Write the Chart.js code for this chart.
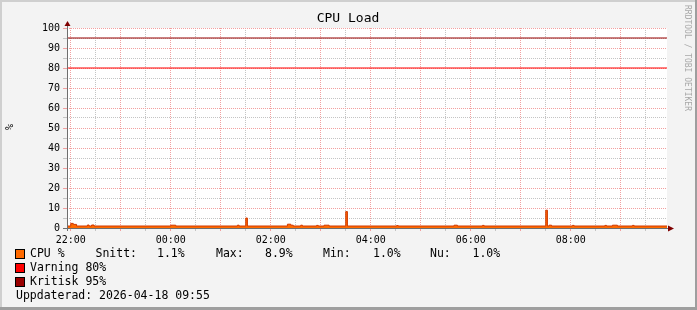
<!DOCTYPE html>
<html>
<head>
<meta charset="utf-8">
<script src="https://cdn.jsdelivr.net/npm/chart.js@4/dist/chart.umd.min.js"></script>
<style>
  html, body { margin: 0; padding: 0; background: #f3f3f3; }
  #wrap { width: 697px; height: 310px; }
</style>
</head>
<body>
<div id="wrap"><canvas id="cpu_chart" width="697" height="310"></canvas></div>
<script>
// minutes after 22:00, value holds until next time
const cpuTimes = [-4.5, 0, 3, 7, 20, 22, 25, 28, 120, 126, 200, 202, 210, 212,
    260, 264, 267, 276, 278, 295, 297, 304, 310, 330, 332, 391, 393, 460, 464,
    494, 496, 570, 572, 574, 577, 602, 604, 641, 643, 650, 656, 674, 676, 715.5];
const cpuValues = [1.0, 2.3, 1.8, 1.0, 1.5, 1.0, 1.5, 1.0, 1.4, 1.0, 1.4, 1.0, 5.0, 1.0,
    1.9, 1.4, 1.0, 1.4, 1.0, 1.3, 1.0, 1.4, 1.0, 8.2, 1.0, 1.2, 1.0, 1.4, 1.0,
    1.3, 1.0, 8.9, 1.0, 1.4, 1.0, 1.3, 1.0, 1.3, 1.0, 1.4, 1.0, 1.3, 1.0, 1.0];
const warnLevel = 80;
const critLevel = 95;
const xLabels = ['22:00', '00:00', '02:00', '04:00', '06:00', '08:00'];
const statLabels = ['Snitt:', 'Max:', 'Min:', 'Nu:'];
const statValues = ['1.1%', '8.9%', '1.0%', '1.0%'];

const X_MIN = -4.5, X_MAX = 715.5;
const MONO = "'DejaVu Sans Mono', monospace";

Chart.defaults.font.family = MONO;
Chart.defaults.color = '#000';

function pts(xs, ys) {
    let out = [];
    for (let i = 0; i < xs.length; i++) out.push({x: xs[i], y: ys[i]});
    return out;
}

const majorGrid = '#f2a0a0';
const minorGrid = '#c4c4c4';

const rrdLook = {
    id: 'rrdLook',
    beforeDraw(chart) {
        const c = chart.ctx, a = chart.chartArea;
        c.save();
        c.fillStyle = '#f3f3f3';
        c.fillRect(0, 0, 697, 310);
        // shade frame
        c.fillStyle = '#cfcfcf';
        c.fillRect(0, 0, 697, 2);
        c.fillRect(0, 0, 2, 310);
        c.fillStyle = '#9e9e9e';
        c.fillRect(695, 0, 2, 310);
        c.fillRect(0, 307, 697, 3);
        c.fillStyle = '#fff';
        c.fillRect(a.left, a.top, a.right - a.left, a.bottom - a.top);
        c.restore();
    },
    afterDraw(chart) {
        const c = chart.ctx, a = chart.chartArea;
        c.save();
        // axes
        c.strokeStyle = '#6e6e6e';
        c.lineWidth = 1;
        c.beginPath();
        c.moveTo(a.left - 4, a.bottom + 0.5);
        c.lineTo(a.right + 4, a.bottom + 0.5);
        c.moveTo(a.left + 0.5, a.bottom + 3);
        c.lineTo(a.left + 0.5, a.top - 4);
        c.stroke();
        c.fillStyle = '#7f0000';
        c.beginPath();
        c.moveTo(a.right + 1, a.bottom - 2.5);
        c.lineTo(a.right + 7, a.bottom + 0.5);
        c.lineTo(a.right + 1, a.bottom + 3.5);
        c.fill();
        c.beginPath();
        c.moveTo(a.left - 2.5, a.top - 2);
        c.lineTo(a.left + 0.5, a.top - 7);
        c.lineTo(a.left + 3.5, a.top - 2);
        c.fill();

        // title
        c.fillStyle = '#000';
        c.textAlign = 'center';
        c.textBaseline = 'middle';
        c.font = '13px ' + MONO;
        c.fillText('CPU Load', 348, 19);

        // y label
        c.save();
        c.translate(10, 127);
        c.rotate(-Math.PI / 2);
        c.font = '10px ' + MONO;
        c.fillText('%', 0, 0);
        c.restore();

        // watermark
        c.save();
        c.translate(687, 5);
        c.rotate(Math.PI / 2);
        c.textAlign = 'left';
        c.fillStyle = '#a8a8a8';
        c.font = '8px ' + MONO;
        c.fillText('RRDTOOL / TOBI OETIKER', 0, 0);
        c.restore();

        // legend
        const rows = [
            {color: '#ff6a00', text: 'CPU %'},
            {color: '#ff0000', text: 'Varning ' + warnLevel + '%'},
            {color: '#990000', text: 'Kritisk ' + critLevel + '%'}
        ];
        c.font = '11.5px ' + MONO;
        c.textAlign = 'left';
        for (let i = 0; i < rows.length; i++) {
            let y = 254 + i * 14;
            c.fillStyle = rows[i].color;
            c.fillRect(15.5, y - 4.5, 9, 9);
            c.strokeStyle = '#000';
            c.strokeRect(15.5, y - 4.5, 9, 9);
            c.fillStyle = '#000';
            c.fillText(rows[i].text, 30, y);
        }
        const labX = [95.5, 216, 323, 430];
        const valX = [157, 265, 373, 472.5];
        for (let i = 0; i < statLabels.length; i++) {
            c.fillText(statLabels[i], labX[i], 254);
            c.fillText(statValues[i], valX[i], 254);
        }
        c.fillText('Uppdaterad: 2026-04-18 09:55', 16, 296);
        c.restore();
    }
};

new Chart(document.getElementById('cpu_chart'), {
    type: 'line',
    data: {
        datasets: [{
            data: pts(cpuTimes, cpuValues),
            stepped: true,
            borderColor: '#d03800',
            borderWidth: 1,
            backgroundColor: '#ff6a00',
            fill: 'origin',
            pointRadius: 0
        }, {
            data: pts([X_MIN, X_MAX], [warnLevel, warnLevel]),
            borderColor: '#ff0000',
            borderWidth: 1,
            pointRadius: 0,
            fill: false
        }, {
            data: pts([X_MIN, X_MAX], [critLevel, critLevel]),
            borderColor: '#990000',
            borderWidth: 1,
            pointRadius: 0,
            fill: false
        }]
    },
    options: {
        responsive: false,
        animation: false,
        layout: {padding: {left: 0, top: 28, right: 30, bottom: 0}},
        plugins: {legend: {display: false}, tooltip: {enabled: false}},
        scales: {
            x: {
                type: 'linear',
                min: X_MIN,
                max: X_MAX,
                afterFit(s) { s.height = 82; },
                afterBuildTicks(s) {
                    let t = [];
                    for (let m = 0; m < X_MAX; m += 30) t.push({value: m});
                    s.ticks = t;
                },
                ticks: {
                    autoSkip: false,
                    maxRotation: 0,
                    padding: 3,
                    font: {size: 10},
                    callback(v) {
                        return v % 120 === 0 ? xLabels[v / 120] : '';
                    }
                },
                grid: {
                    color(ctx) { return ctx.tick && ctx.tick.value % 60 === 0 ? majorGrid : minorGrid; },
                    tickLength: 3,
                    lineWidth: 1
                },
                border: {display: false, dash: [1, 1]}
            },
            y: {
                min: 0,
                max: 100,
                afterFit(s) { s.width = 67; },
                ticks: {
                    stepSize: 5,
                    autoSkip: false,
                    padding: 3,
                    font: {size: 10},
                    callback(v) { return v % 10 === 0 ? v : ''; }
                },
                grid: {
                    color(ctx) { return ctx.tick && ctx.tick.value % 10 === 0 ? majorGrid : minorGrid; },
                    tickLength: 4,
                    lineWidth: 1
                },
                border: {display: false, dash: [1, 1]}
            }
        }
    },
    plugins: [rrdLook]
});
</script>
</body>
</html>
